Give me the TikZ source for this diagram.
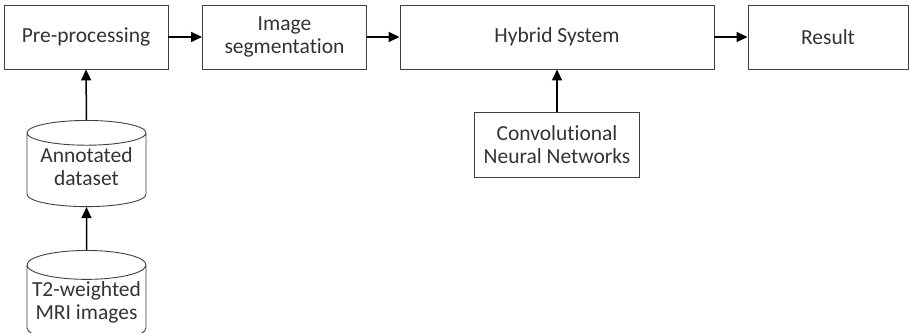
\documentclass[tikz,border=0pt]{standalone}
\usepackage{fontspec}
\setmainfont{Carlito}[RawFeature=-liga]
\usetikzlibrary{positioning, shapes.geometric, arrows.meta}

% text inside the cylinders sits a bit higher
\newcommand{\dbtext}[1]{\raisebox{3pt}[\height][\depth]{\begin{tabular}{@{}c@{}}#1\end{tabular}}}

\begin{document}
\begin{tikzpicture}[x=1pt, y=-1pt,
    txt/.style={align=center, text=black!80, font=\fontsize{21.5}{23}\selectfont},
    box/.style={txt, draw=black!75, line width=0.9pt, minimum width=164pt, minimum height=64pt},
    db/.style={txt, cylinder, shape border rotate=90, draw=black!75, line width=0.9pt, aspect=0.25, minimum width=119pt, minimum height=82pt, anchor=north},
    flow/.style={-{Triangle[length=11pt,width=10pt]}, line width=1.5pt}]
    \useasboundingbox (0,0) rectangle (909,332);
    \node[box] (pre) at (86,37) {Pre-processing};
    \node[box] (seg) at (284.5,37) {Image\\segmentation};
    \node[box, minimum width=314pt] (hyb) at (557,37) {Hybrid System};
    \node[box, minimum width=160pt] (res) at (828,37) {Result};
    \node[box, minimum width=165pt, minimum height=65pt] (cnn) at (557,144.5) {Convolutional\\Neural Networks};
    \node[db] (ann) at (86.5,120) {\dbtext{Annotated\\dataset}};
    \node[db] (mri) at (86.5,250) {\dbtext{T2-weighted\\MRI images}};
    \draw[flow] (pre) -- (seg);
    \draw[flow] (seg) -- (hyb);
    \draw[flow] (hyb) -- (res);
    \draw[flow] (cnn) -- (hyb);
    \draw[flow] (ann.north) -- (pre.south);
    \draw[flow] (mri.north) -- (ann.south);
\end{tikzpicture}
\end{document}
